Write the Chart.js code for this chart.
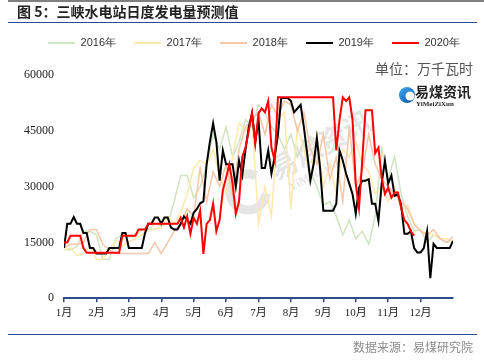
<!DOCTYPE html>
<html>
<head>
<meta charset="utf-8">
<script src="https://cdn.jsdelivr.net/npm/chart.js@4.4.1/dist/chart.umd.min.js"></script>
<style>
  html, body { margin: 0; padding: 0; background: #fff; }
</style>
</head>
<body>
<canvas id="chart" width="484" height="360"></canvas>
<script>
// x axis: months
const monthLabels = ['1月', '2月', '3月', '4月', '5月', '6月', '7月', '8月', '9月', '10月', '11月', '12月'];
const yMax = 60000;
const yStep = 15000;

// 2019 / 2020 read every 0.1 month, the pale years every 0.2 month
const STEP_FINE = 0.1;
const STEP_COARSE = 0.2;

const v2020 = [
  15000, 15000, 16800, 16800, 16800, 16800, 13500, 12200, 12200, 12200,
  12200, 12200, 12200, 12200, 12200, 12200, 12200, 12200, 16800, 16800,
  16800, 16800, 16800, 18500, 18500, 18500, 20000, 20000, 20000, 20000,
  20000, 20000, 20000, 20000, 20000, 20000, 21600, 19000, 22000, 17300,
  21600, 20000, 23500, 11900, 20000, 21000, 25400, 18000, 21000, 29000,
  32400, 36000, 30800, 22700, 26000, 38000, 40500, 45000, 49700, 41600,
  49700, 51000, 50000, 53000, 40500, 37000, 54000, 54000, 54000, 54000,
  54000, 54000, 54000, 54000, 54000, 54000, 54000, 54000, 54000, 54000,
  54000, 54000, 54000, 54000, 39700, 48000, 54000, 53000, 54000, 48000,
  30800, 24300, 37000, 50500, 50500, 50500, 39000, 40500, 32400, 28000,
  29700, 27000, 28400, 28400, 24300, 21000, 20000, 18000, 16800
];

const v2019 = [
  13500, 20000, 20000, 21800, 20000, 20000, 17500, 17500, 13500, 13500,
  12000, 12000, 12000, 12000, 13500, 13500, 13500, 13500, 17500, 17500,
  13500, 13500, 13500, 13500, 13500, 17500, 20000, 20000, 21700, 21700,
  20000, 21700, 21700, 19000, 18500, 18500, 20000, 22000, 21000, 20000,
  23000, 24000, 25500, 26000, 36000, 42000, 47000, 42000, 31600, 39700,
  36000, 36000, 36000, 30000, 37000, 33000, 40000, 46000, 49700, 42000,
  48000, 35000, 35000, 39700, 33500, 38000, 44000, 53800, 53800, 53800,
  53000, 50000, 51000, 52000, 46000, 39000, 31600, 36000, 43000, 35000,
  23500, 23500, 23500, 23500, 25400, 39700, 37000, 33500, 30800, 28000,
  22700, 29700, 31600, 31600, 32000, 25400, 25400, 20800, 30800, 37000,
  30800, 33000, 27500, 28000, 25000, 17300, 17300, 18000, 13500, 12300,
  12300, 13500, 18000, 5400, 14600, 13500, 13500, 13500, 13500, 13500,
  15400
];

const v2018 = [
  13500, 14500, 14500, 15000, 18500, 18500, 14500, 13000, 12000, 12000,
  12000, 12000, 12000, 12000, 15000, 12000, 15000, 18000, 20000, 24000,
  22000, 35000, 26000, 34000, 30000, 36000, 28000, 40000, 46000, 48000,
  50000, 44000, 52000, 49000, 53000, 52000, 45000, 50000, 40000, 36000,
  44000, 32000, 38000, 26000, 46000, 30000, 34000, 44000, 36000, 32000,
  30000, 28000, 26000, 24000, 20000, 18000, 17000, 18500, 16000, 15000,
  16500
];

const v2017 = [
  13000, 13500, 11500, 12000, 14000, 10500, 10500, 13000, 15500, 14000,
  15000, 16000, 17000, 18500, 18500, 19000, 22000, 20000, 23000, 28000,
  35000, 37000, 36000, 40000, 33000, 28000, 38000, 47000, 45000, 48000,
  20000, 30000, 22000, 48000, 50000, 24000, 46000, 40000, 32000, 44000,
  30000, 36000, 28000, 40000, 38000, 42000, 36000, 34000, 28000, 30000,
  26000, 30000, 24000, 25000, 20000, 18000, 17500, 17000, 16000, 16000,
  15000
];

const v2016 = [
  13000, 13000, 14000, 18000, 18000, 17000, 10500, 10500, 16000, 17000,
  16500, 16500, 18500, 18500, 20000, 19500, 20000, 26000, 33000, 33000,
  27000, 30000, 36000, 44000, 40000, 46000, 38000, 42000, 48000, 46000,
  52000, 50000, 46000, 44000, 40000, 44000, 38000, 42000, 34000, 30000,
  25000, 26000, 22000, 17000, 21000, 16000, 18000, 14500, 22000, 40000,
  32000, 38000, 28000, 22000, 18000, 18500, 15000, 17000, 16000, 15000,
  15500
];

const toPoints = (vals, step) => vals.map((v, i) => ({ x: +(i * step).toFixed(2), y: v }));

function line(label, vals, step, color, width) {
  return {
    label: label,
    data: toPoints(vals, step),
    borderColor: color,
    backgroundColor: color,
    borderWidth: width,
    pointRadius: 0,
    fill: false,
    tension: 0
  };
}

const NAVY = '#2f4b8a';

// titles, rules, unit, logo and source text
const decor = {
  id: 'decor',
  beforeDatasetsDraw(chart) {
    // watermark in the middle of the plot
    const ctx = chart.ctx;
    ctx.save();
    ctx.translate(248, 192);
    ctx.rotate(-0.5);
    ctx.strokeStyle = 'rgba(170,170,170,0.3)';
    ctx.lineWidth = 9;
    ctx.beginPath();
    ctx.arc(0, 0, 18, 0.6, 2 * Math.PI - 0.6);
    ctx.stroke();
    ctx.fillStyle = 'rgba(170,170,170,0.3)';
    ctx.font = 'bold 28px "Noto Sans CJK SC"';
    ctx.textBaseline = 'alphabetic';
    ctx.fillText('易煤资讯', 30, 4);
    ctx.font = 'bold 12px "Liberation Serif"';
    ctx.fillText('YiMeiZiXun', 38, 20);
    ctx.restore();
  },
  afterDraw(chart) {
    const ctx = chart.ctx;
    ctx.save();
    // top grey rule
    ctx.fillStyle = '#7f7f7f';
    ctx.fillRect(8, 0, 476, 2);
    // title
    ctx.fillStyle = '#222';
    ctx.font = 'bold 14px "Noto Sans CJK SC"';
    ctx.textBaseline = 'middle';
    ctx.textAlign = 'left';
    ctx.fillText('图 5：三峡水电站日度发电量预测值', 17, 12);
    // blue rules
    ctx.fillStyle = NAVY;
    ctx.fillRect(8, 22, 469, 1);
    ctx.fillRect(8, 334, 469, 1);
    // unit
    ctx.fillStyle = '#555';
    ctx.font = '14px "Noto Sans CJK SC"';
    ctx.textAlign = 'right';
    ctx.fillText('单位：万千瓦时', 473, 69);
    // source
    ctx.fillStyle = '#8c8c8c';
    ctx.font = '12px "Noto Sans CJK SC"';
    ctx.fillText('数据来源：易煤研究院', 473, 347);
    // logo
    const g = ctx.createLinearGradient(400, 87, 414, 103);
    g.addColorStop(0, '#3fa9f5');
    g.addColorStop(1, '#0b4f9c');
    ctx.fillStyle = g;
    ctx.beginPath();
    ctx.arc(407, 95, 8, 0, 2 * Math.PI);
    ctx.fill();
    ctx.fillStyle = '#fff';
    ctx.beginPath();
    ctx.arc(410, 96, 4.5, 0, 2 * Math.PI);
    ctx.fill();
    ctx.fillStyle = '#222';
    ctx.textAlign = 'left';
    ctx.font = 'bold 14px "Noto Sans CJK SC"';
    ctx.fillText('易煤资讯', 415, 92);
    ctx.font = 'bold 7px "Liberation Serif"';
    ctx.fillText('YiMeiZiXun', 416, 104);
    ctx.restore();
  }
};

const ctx = document.getElementById('chart').getContext('2d');
const chart = new Chart(ctx, {
  type: 'line',
  data: {
    // first dataset is drawn on top, legend is reversed
    datasets: [
      line('2020年', v2020, STEP_FINE, '#ff0000', 2),
      line('2019年', v2019, STEP_FINE, '#000000', 2),
      line('2018年', v2018, STEP_COARSE, '#f7c6a6', 1.5),
      line('2017年', v2017, STEP_COARSE, '#fde8ad', 1.5),
      line('2016年', v2016, STEP_COARSE, '#cfe4c0', 1.5)
    ]
  },
  options: {
    responsive: false,
    animation: false,
    layout: {
      padding: { top: 19.5, left: 24, right: 0, bottom: 36.6 }
    },
    plugins: {
      tooltip: { enabled: false },
      legend: {
        reverse: true,
        labels: {
          boxWidth: 27,
          boxHeight: 2,
          padding: 18,
          color: '#333',
          font: { family: 'Liberation Sans', size: 11 },
          generateLabels: (c) => Chart.defaults.plugins.legend.labels.generateLabels(c)
            .map(l => ({ ...l, fillStyle: l.strokeStyle, lineWidth: 0 }))
        }
      }
    },
    scales: {
      x: {
        type: 'linear',
        min: 0,
        max: monthLabels.length,
        afterBuildTicks: (s) => { s.ticks = s.ticks.filter(t => t.value < monthLabels.length); },
        ticks: {
          stepSize: 1,
          padding: 4,
          color: '#222',
          font: { family: '"Liberation Serif", "Noto Sans CJK SC"', size: 11 },
          maxRotation: 0,
          callback: (v) => monthLabels[v]
        },
        grid: { display: true, drawOnChartArea: false, tickLength: 4, color: NAVY, lineWidth: 1.5 },
        border: { display: true, color: NAVY, width: 2 }
      },
      y: {
        min: 0,
        max: yMax,
        afterFit: (s) => { s.width = 40; },
        ticks: {
          stepSize: yStep,
          padding: 10,
          color: '#222',
          font: { family: 'Liberation Serif', size: 12 },
          callback: (v) => String(v)
        },
        grid: { display: false, drawTicks: false },
        border: { display: false }
      },
      topGap: {
        type: 'linear',
        position: 'top',
        ticks: { display: false },
        grid: { display: false, drawTicks: false },
        border: { display: false },
        afterFit: (s) => { s.height = 16.5; }
      },
      rightGap: {
        type: 'linear',
        position: 'right',
        ticks: { display: false },
        grid: { display: false, drawTicks: false },
        border: { display: false },
        afterFit: (s) => { s.width = 31; }
      }
    }
  },
  plugins: [decor]
});
</script>
</body>
</html>
